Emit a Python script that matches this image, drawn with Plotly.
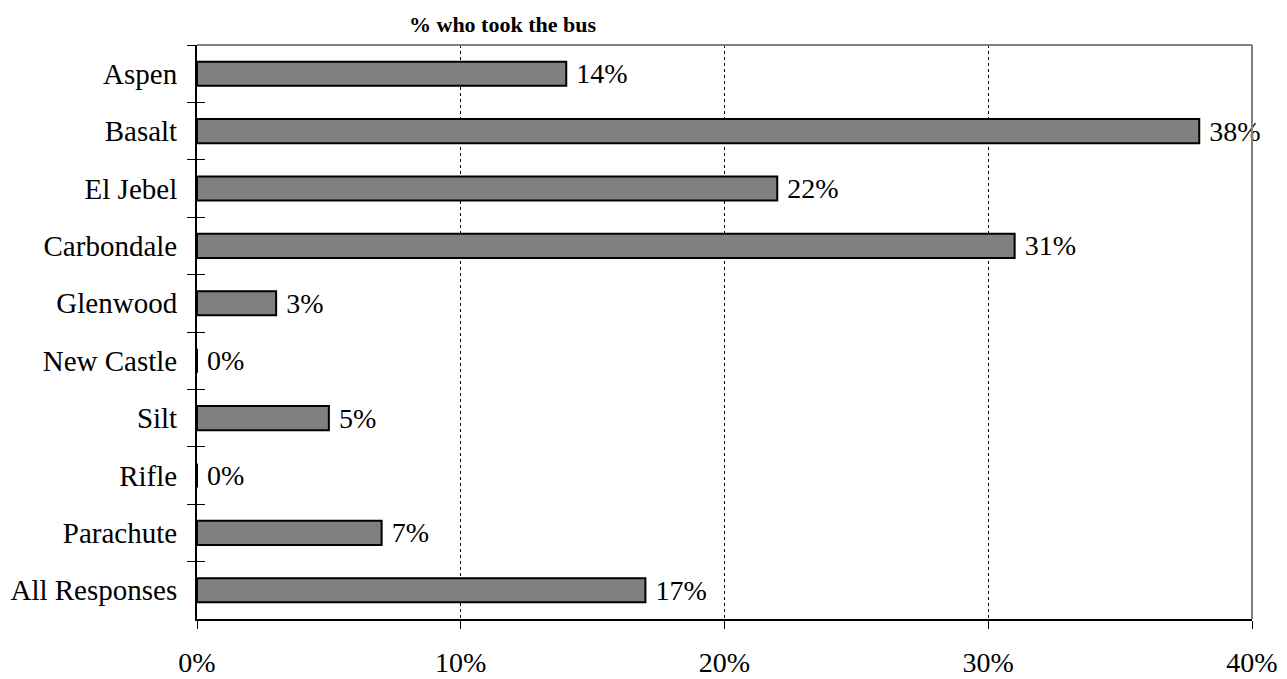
import plotly.graph_objects as go

# Share of respondents who took the bus, by community
categories = ["Aspen", "Basalt", "El Jebel", "Carbondale", "Glenwood",
              "New Castle", "Silt", "Rifle", "Parachute", "All Responses"]
bus_share = [0.14, 0.38, 0.22, 0.31, 0.03, 0.00, 0.05, 0.00, 0.07, 0.17]
x_ticks = [0.0, 0.1, 0.2, 0.3, 0.4]
x_tick_labels = ["0%", "10%", "20%", "30%", "40%"]

FONT = "Liberation Serif, Times New Roman, serif"
LABEL_SIZE = 28
cat_range = [len(categories) - 0.5, -0.5]

fig = go.Figure()

fig.add_trace(go.Bar(
    x=bus_share,
    y=categories,
    orientation="h",
    marker=dict(color="#808080", line=dict(color="black", width=2)),
    text=["\u00a0" + f"{v:.0%}" for v in bus_share],
    textposition="outside",
    constraintext="none",
    textfont=dict(family=FONT, size=LABEL_SIZE, color="black"),
    cliponaxis=False,
    hoverinfo="skip",
))

# Invisible companion trace that carries the inward half of the category ticks
fig.add_trace(go.Scatter(
    x=bus_share,
    y=categories,
    yaxis="y2",
    mode="markers",
    marker=dict(opacity=0),
    hoverinfo="skip",
    showlegend=False,
))

fig.update_layout(
    width=1287,
    height=679,
    margin=dict(l=197, r=35, t=45, b=60),
    paper_bgcolor="white",
    plot_bgcolor="white",
    showlegend=False,
    bargap=0.58,
    font=dict(family=FONT, size=LABEL_SIZE, color="black"),
    xaxis=dict(
        range=[0, 0.4],
        tickvals=x_ticks,
        ticktext=x_tick_labels,
        ticks="outside",
        ticklen=8,
        tickwidth=1,
        tickcolor="black",
        ticklabelstandoff=9,
        showline=True,
        linecolor="black",
        linewidth=2,
        showgrid=True,
        gridcolor="black",
        gridwidth=1,
        griddash="dot",
        zeroline=False,
        automargin=False,
        tickfont=dict(family=FONT, size=LABEL_SIZE),
    ),
    yaxis=dict(
        type="category",
        categoryorder="array",
        categoryarray=categories,
        range=cat_range,
        ticks="outside",
        tickson="boundaries",
        ticklen=8,
        tickwidth=1,
        tickcolor="black",
        ticklabelstandoff=12,
        showline=True,
        linecolor="black",
        linewidth=2,
        showgrid=False,
        zeroline=False,
        automargin=False,
        tickfont=dict(family=FONT, size=29),
    ),
    yaxis2=dict(
        type="category",
        categoryorder="array",
        categoryarray=categories,
        range=cat_range,
        overlaying="y",
        side="left",
        anchor="x",
        ticks="inside",
        tickson="boundaries",
        ticklen=8,
        tickwidth=1,
        tickcolor="black",
        showticklabels=False,
        showline=False,
        showgrid=False,
        zeroline=False,
        automargin=False,
    ),
    shapes=[
        # grey frame along the top and right of the plot area
        dict(type="line", xref="paper", yref="paper", x0=0, x1=1, y0=1, y1=1,
             line=dict(color="#808080", width=2)),
        dict(type="line", xref="paper", yref="paper", x0=1, x1=1, y0=0, y1=1,
             line=dict(color="#808080", width=2)),
    ],
    annotations=[
        dict(text="<b>% who took the bus</b>", xref="paper", yref="paper",
             x=0.29, xanchor="center", y=1, yanchor="bottom", yshift=6,
             showarrow=False,
             font=dict(family=FONT, size=22, color="black")),
    ],
)

fig.write_html("out.html")
